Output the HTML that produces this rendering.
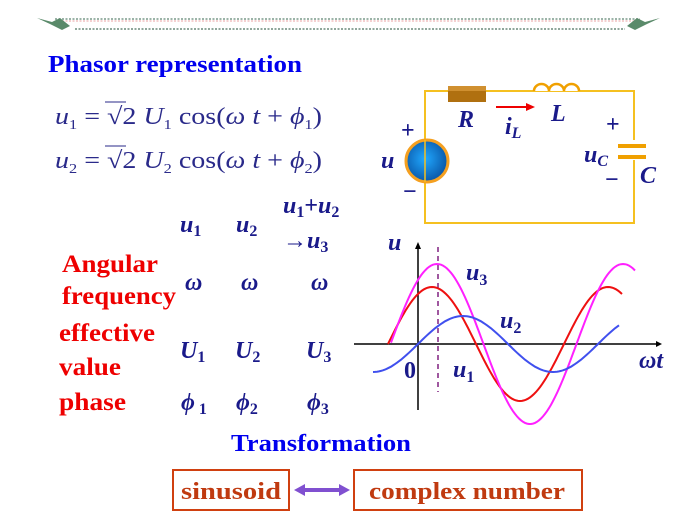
<!DOCTYPE html>
<html><head><meta charset="utf-8"><style>
body{margin:0;background:#fff;}
svg{display:block;font-family:"Liberation Serif",serif;}
</style></head><body>
<svg width="697" height="523" viewBox="0 0 697 523" xmlns="http://www.w3.org/2000/svg">
<g>
<line x1="55" y1="19" x2="640" y2="19" stroke="#7a9a8a" stroke-width="1.5" stroke-dasharray="2 1.5"/>
<line x1="55" y1="21" x2="640" y2="21" stroke="#e8a0a0" stroke-width="1" stroke-dasharray="2 1.5"/>
<line x1="75" y1="29" x2="625" y2="29" stroke="#6a8a7a" stroke-width="1.5" stroke-dasharray="2 1.5"/>
<path d="M37 18 L52 22 L60 18 L70 26 L62 30 L50 24 Z" fill="#5a8a6a"/>
<path d="M660 18 L645 22 L637 18 L627 26 L635 30 L647 24 Z" fill="#5a8a6a"/>
</g>
<text x="48" y="72" font-size="24" font-weight="bold" fill="#0000ee" textLength="254" lengthAdjust="spacingAndGlyphs">Phasor representation</text>
<g fill="#2a2a8a" font-size="24">
<text x="55" y="124" textLength="267" lengthAdjust="spacingAndGlyphs"><tspan font-style="italic">u</tspan><tspan font-size="14" dy="5">1</tspan><tspan dy="-5"> = √2 </tspan><tspan font-style="italic">U</tspan><tspan font-size="14" dy="5">1</tspan><tspan dy="-5"> cos(</tspan><tspan font-style="italic">ω t</tspan><tspan> + </tspan><tspan font-style="italic">ϕ</tspan><tspan font-size="14" dy="5">1</tspan><tspan dy="-5">)</tspan></text>
<text x="55" y="168" textLength="267" lengthAdjust="spacingAndGlyphs"><tspan font-style="italic">u</tspan><tspan font-size="14" dy="5">2</tspan><tspan dy="-5"> = √2 </tspan><tspan font-style="italic">U</tspan><tspan font-size="14" dy="5">2</tspan><tspan dy="-5"> cos(</tspan><tspan font-style="italic">ω t</tspan><tspan> + </tspan><tspan font-style="italic">ϕ</tspan><tspan font-size="14" dy="5">2</tspan><tspan dy="-5">)</tspan></text>
</g>
<line x1="105" y1="102" x2="126" y2="102" stroke="#2a2a8a" stroke-width="1"/>
<line x1="105" y1="146" x2="126" y2="146" stroke="#2a2a8a" stroke-width="1"/>
<g fill="#1a1a8a" font-size="24" font-weight="bold" font-style="italic">
<text x="180" y="232">u<tspan font-size="16" dy="4" font-style="normal">1</tspan></text>
<text x="236" y="232">u<tspan font-size="16" dy="4" font-style="normal">2</tspan></text>
<text x="283" y="213">u<tspan font-size="16" dy="4" font-style="normal">1</tspan><tspan dy="-4" font-style="normal">+</tspan>u<tspan font-size="16" dy="4" font-style="normal">2</tspan></text>
<text x="283" y="248"><tspan font-style="normal">→</tspan>u<tspan font-size="16" dy="4" font-style="normal">3</tspan></text>
<text x="185" y="290">ω</text><text x="241" y="290">ω</text><text x="311" y="290">ω</text>
<text x="180" y="358">U<tspan font-size="16" dy="4" font-style="normal">1</tspan></text>
<text x="235" y="358">U<tspan font-size="16" dy="4" font-style="normal">2</tspan></text>
<text x="306" y="358">U<tspan font-size="16" dy="4" font-style="normal">3</tspan></text>
<text x="181" y="410">ϕ<tspan font-size="16" dy="4" font-style="normal"> 1</tspan></text>
<text x="236" y="410">ϕ<tspan font-size="16" dy="4" font-style="normal">2</tspan></text>
<text x="307" y="410">ϕ<tspan font-size="16" dy="4" font-style="normal">3</tspan></text>
</g>
<g fill="#ee0000" font-size="25" font-weight="bold" lengthAdjust="spacingAndGlyphs">
<text x="62" y="272" textLength="96" lengthAdjust="spacingAndGlyphs">Angular</text>
<text x="62" y="304" textLength="114" lengthAdjust="spacingAndGlyphs">frequency</text>
<text x="59" y="341" textLength="96" lengthAdjust="spacingAndGlyphs">effective</text>
<text x="59" y="375" textLength="62" lengthAdjust="spacingAndGlyphs">value</text>
<text x="59" y="410" textLength="67" lengthAdjust="spacingAndGlyphs">phase</text>
</g>
<rect x="425" y="91" width="209" height="132" fill="none" stroke="#f5c020" stroke-width="2"/>
<rect x="448" y="86" width="38" height="16" fill="#b07010"/>
<rect x="448" y="86" width="38" height="5" fill="#d09030"/>
<path d="M534 91 a7.5 7 0 0 1 15 0 a7.5 7 0 0 1 15 0 a7.5 7 0 0 1 15 0" fill="#fff" stroke="#f0a000" stroke-width="2.5"/>
<rect x="610" y="140" width="40" height="20" fill="#fff"/>
<rect x="618" y="144" width="28" height="4" fill="#f0a000"/>
<rect x="618" y="155" width="28" height="4" fill="#f0a000"/>
<line x1="496" y1="107" x2="527" y2="107" stroke="#ee0000" stroke-width="2"/>
<path d="M535 107 L526 103 L526 111 Z" fill="#ee0000"/>
<defs><radialGradient id="g" cx="0.45" cy="0.45" r="0.6"><stop offset="0" stop-color="#20a8ff"/><stop offset="1" stop-color="#0850a0"/></radialGradient></defs>
<circle cx="427" cy="161" r="21" fill="url(#g)" stroke="#f5a020" stroke-width="3"/>
<line x1="425" y1="140" x2="425" y2="182" stroke="#f5c020" stroke-width="1.5"/>
<g fill="#1a1a8a" font-size="24" font-weight="bold" font-style="italic">
<text x="458" y="127">R</text>
<text x="505" y="134">i<tspan font-size="16" dy="4">L</tspan></text>
<text x="551" y="121">L</text>
<text x="381" y="168">u</text>
<text x="584" y="162">u<tspan font-size="16" dy="4">C</tspan></text>
<text x="640" y="183">C</text>
<text x="388" y="250">u</text>
<text x="466" y="280">u<tspan font-size="16" dy="5" font-style="normal">3</tspan></text>
<text x="500" y="328">u<tspan font-size="16" dy="5" font-style="normal">2</tspan></text>
<text x="453" y="377">u<tspan font-size="16" dy="5" font-style="normal">1</tspan></text>
<text x="639" y="368">ωt</text>
<text x="404" y="378" font-style="normal">0</text>
</g>
<g fill="#1a1a8a" font-size="24" font-weight="bold">
<text x="401" y="138">+</text>
<text x="403" y="199">−</text>
<text x="606" y="132">+</text>
<text x="605" y="187">−</text>
</g>
<line x1="354" y1="344" x2="660" y2="344" stroke="#000" stroke-width="1.5"/>
<path d="M662 344 L656 341 L656 347 Z" fill="#000"/>
<line x1="418" y1="410" x2="418" y2="246" stroke="#000" stroke-width="1.5"/>
<path d="M418 242 L415 249 L421 249 Z" fill="#000"/>
<line x1="438" y1="247" x2="438" y2="392" stroke="#802080" stroke-width="1.5" stroke-dasharray="5 4"/>
<path id="red" fill="none" stroke="#ee1010" stroke-width="2"/>
<path id="mag" fill="none" stroke="#ff20ff" stroke-width="2"/>
<path id="blu" fill="none" stroke="#4050ee" stroke-width="2"/>
<text x="231" y="451" font-size="24" font-weight="bold" fill="#0000ee" textLength="180" lengthAdjust="spacingAndGlyphs">Transformation</text>
<rect x="173" y="470" width="116" height="40" fill="none" stroke="#d04010" stroke-width="2"/>
<rect x="354" y="470" width="228" height="40" fill="none" stroke="#d04010" stroke-width="2"/>
<g fill="#c03a10" font-size="24" font-weight="bold">
<text x="181" y="499" textLength="100" lengthAdjust="spacingAndGlyphs">sinusoid</text>
<text x="369" y="499" textLength="196" lengthAdjust="spacingAndGlyphs">complex number</text>
</g>
<line x1="302" y1="490" x2="342" y2="490" stroke="#8050d0" stroke-width="4"/>
<path d="M294 490 L305 484 L305 496 Z M350 490 L339 484 L339 496 Z" fill="#8050d0"/>
</svg>
<script>
function mk(id,x0,x1,f){var d='';for(var x=x0;x<=x1;x+=2){d+=(x==x0?'M':'L')+x+' '+f(x).toFixed(1)+' ';}document.getElementById(id).setAttribute('d',d);}
var P=Math.PI;
mk('red',388,622,function(x){return 344-57*Math.cos(2*P*(x-432)/176);});
mk('mag',391,635,function(x){return 344-80*Math.cos(2*P*(x-437)/186);});
mk('blu',373,619,function(x){return 344-28*Math.sin(2*P*(x-418)/180);});
</script>
</body></html>
